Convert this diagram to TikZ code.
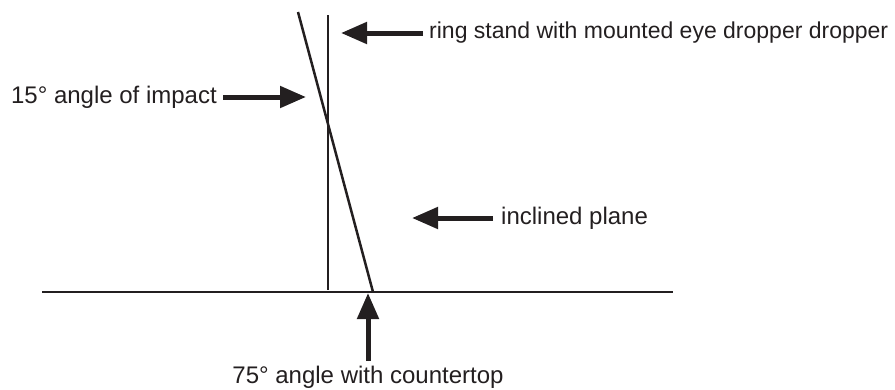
\documentclass[tikz,border=0pt]{standalone}
\usepackage{fontspec}
\setmainfont{Liberation Sans}
\usetikzlibrary{arrows.meta}
\definecolor{ink}{HTML}{231F20}
\begin{document}
\begin{tikzpicture}[x=1pt,y=-1pt,
  thinline/.style={draw=ink, line width=2.5pt},
  bigarrow/.style={draw=ink, line width=5pt, -{Triangle[length=26pt,width=21pt]}, fill=ink},
  lbl/.style={text=ink, font=\fontsize{24}{28}\selectfont, inner ysep=0pt}
]
\useasboundingbox (0,0) rectangle (895,389);
% geometry
\coordinate (slantTop) at (298,12);
\coordinate (slantBot) at (373,292);
\coordinate (standTop) at (328,15);
\coordinate (standBot) at (328,290);
\coordinate (topLeft) at (42,292);
\coordinate (topRight) at (673,292);
% arrow tips
\coordinate (ringTip) at (341,33);
\coordinate (impactTip) at (306,97);
\coordinate (planeTip) at (412,218);
\coordinate (counterTip) at (368,293);
% lines
\draw[thinline] (slantTop) -- (slantBot);
\draw[thinline] (standTop) -- (standBot);
\draw[thinline] (topLeft) -- (topRight);
% labels
\node[lbl, font=\fontsize{23}{27}\selectfont, anchor=west, inner xsep=6pt] (ring) at (423,33) {ring stand with mounted eye dropper dropper};
\node[lbl, anchor=east, inner xsep=6pt] (impact) at (223,97) {15° angle of impact};
\node[lbl, anchor=west, inner xsep=8pt] (plane) at (493,218) {inclined plane};
\node[lbl, anchor=north, inner ysep=5pt] (counter) at (368,361) {75° angle with countertop};
% arrows
\draw[bigarrow] (ring.west) -- (ringTip);
\draw[bigarrow] (impact.east) -- (impactTip);
\draw[bigarrow] (plane.west) -- (planeTip);
\draw[bigarrow] (counter.north) -- (counterTip);
\end{tikzpicture}
\end{document}
